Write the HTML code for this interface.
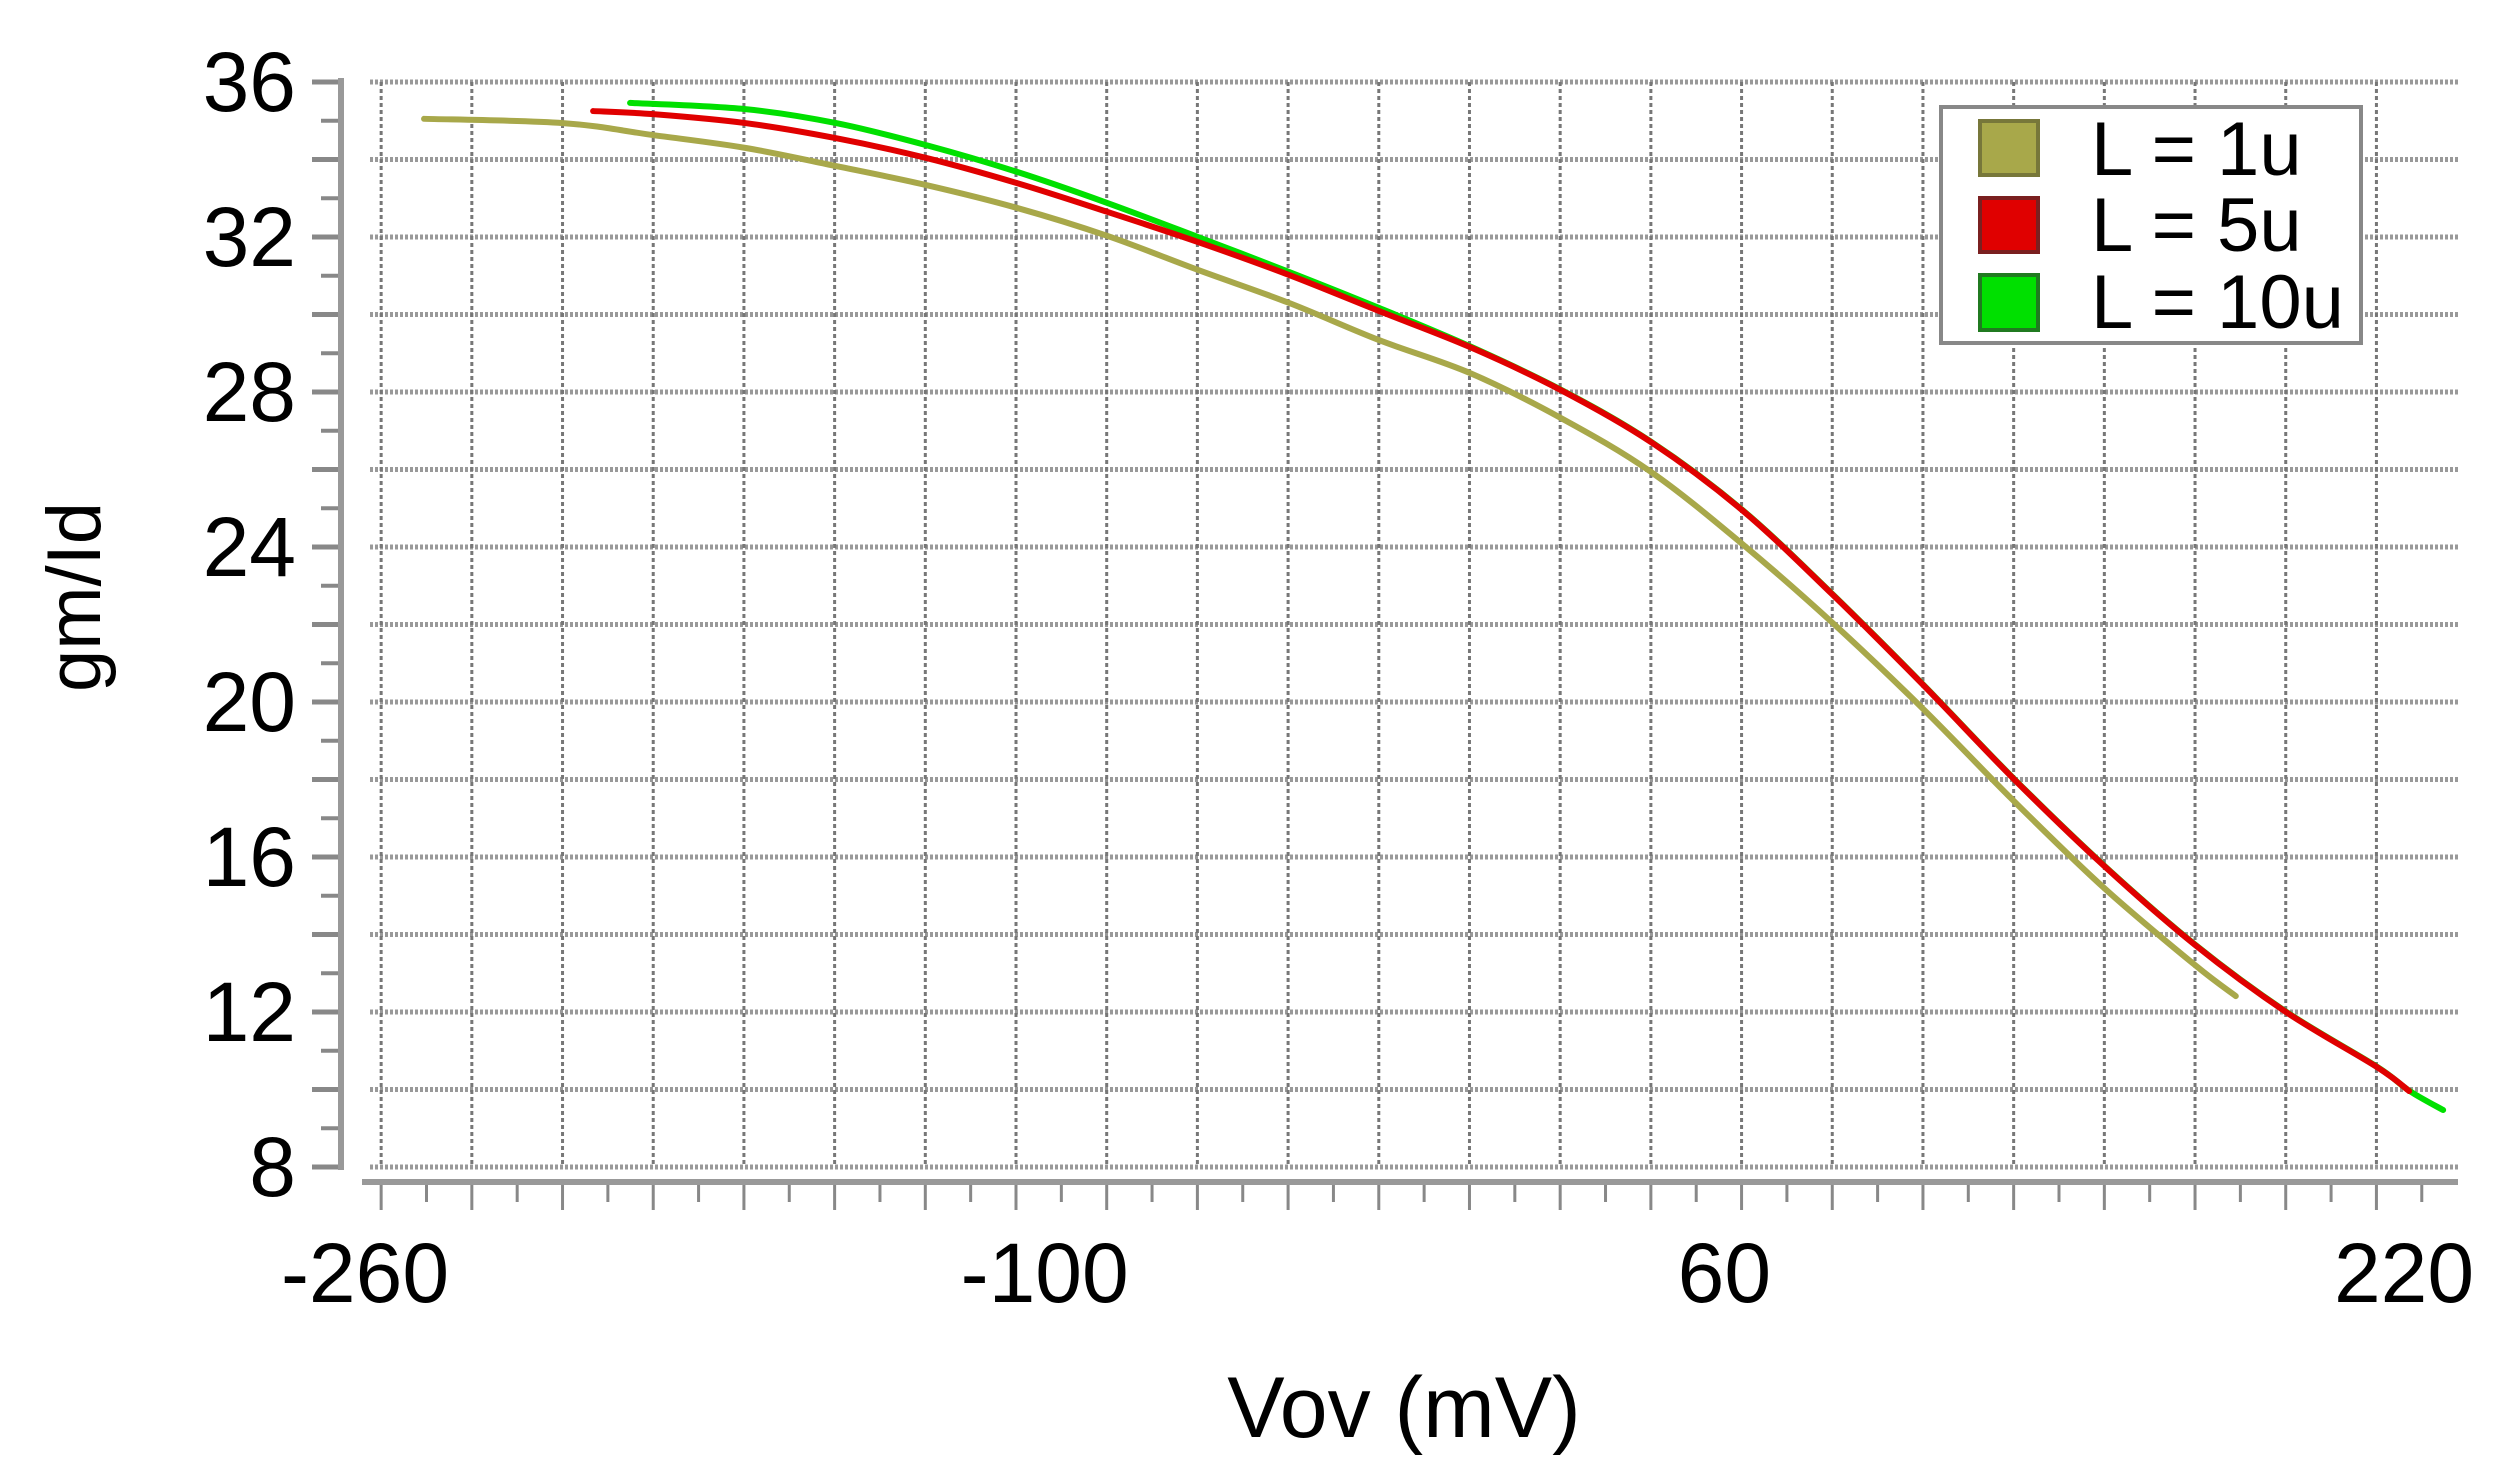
<!DOCTYPE html>
<html><head><meta charset="utf-8"><style>
html,body{margin:0;padding:0;background:#fff;}
svg{display:block;font-family:"Liberation Sans","DejaVu Sans",sans-serif;}
</style></head><body>
<svg id="chart" width="2507" height="1472" viewBox="0 0 2507 1472" xmlns="http://www.w3.org/2000/svg">
<g id="grid"></g>
<g id="axes"></g>
<g id="series"></g>
<text x="1404" y="1437" font-size="86" text-anchor="middle" fill="#000">Vov (mV)</text>
<text transform="translate(100,597) rotate(-90)" font-size="76" text-anchor="middle" fill="#000">gm/Id</text>
<g>
<rect x="1941" y="107" width="420" height="236" fill="#fff" stroke="#888" stroke-width="4"/>
<g><rect x="1980" y="121" width="58" height="54" fill="#a8a84a" stroke="#77773a" stroke-width="4"/><text x="2091" y="175" font-size="76" fill="#000">L = 1u</text></g>
<g><rect x="1980" y="198" width="58" height="54" fill="#e00000" stroke="#7a2020" stroke-width="4"/><text x="2091" y="251" font-size="76" fill="#000">L = 5u</text></g>
<g><rect x="1980" y="275" width="58" height="55" fill="#00e000" stroke="#207a20" stroke-width="4"/><text x="2091" y="328" font-size="76" fill="#000">L = 10u</text></g>
</g>
</svg>
<script>
const xTickLabels = [-260, -100, 60, 220];
const yTickLabels = [8, 12, 16, 20, 24, 28, 32, 36];
const seriesNames = ["L = 1u", "L = 10u", "L = 5u"];
const seriesColors = ["#a8a84a", "#00e000", "#e00000"];
const vov1u = [-246.1,-213.4,-192.2,-170.5,-149.1,-127.9,-106.5,-85.3,-63.9,-42.5,-21.3,0.1,21.5,42.7,64.2,85.3,106.8,127.9,149.4,170.8,180.4];
const gm1u  = [35.05,34.94,34.63,34.30,33.83,33.34,32.75,32.03,31.15,30.30,29.34,28.49,27.33,25.94,24.08,22.06,19.82,17.47,15.20,13.21,12.41];
const vov5u = [-206.3,-192.2,-170.5,-149.1,-127.9,-106.5,-85.3,-63.9,-42.5,-21.3,0.1,21.5,42.7,64.2,85.3,106.8,127.9,149.4,170.8,192.2,213.6,221.2];
const gm5u  = [35.25,35.17,34.94,34.55,34.04,33.39,32.65,31.87,31.02,30.09,29.16,28.05,26.71,24.95,22.79,20.44,18.04,15.77,13.73,12.00,10.58,9.96];
const vov10u = [-197.6,-170.5,-149.1,-127.9,-106.5,-85.3,-63.9,-42.5,-21.3,0.1,21.5,42.7,64.2,85.3,106.8,127.9,149.4,170.8,192.2,213.6,221.2,229.2];
const gm10u  = [35.46,35.30,34.94,34.37,33.68,32.88,32.00,31.10,30.17,29.18,28.06,26.72,24.96,22.80,20.45,18.05,15.78,13.74,12.01,10.59,9.97,9.47];

const NS = "http://www.w3.org/2000/svg";
function X(v){ return 365 + (v + 260) * 4.248; }
function Y(v){ return 82 + (36 - v) * 38.75; }
function mk(tag, attrs, parent){ const e = document.createElementNS(NS, tag); for (const k in attrs) e.setAttribute(k, attrs[k]); parent.appendChild(e); return e; }

const grid = document.getElementById('grid');
const axes = document.getElementById('axes');
const series = document.getElementById('series');
const gridStart = -256.2, gridStep = 21.35, gridEnd = 2458;

for (let v = 8; v <= 36; v += 1) {
  const y = Y(v);
  if (v % 2 === 0) {
    const g = mk('line', {x1: 370, x2: gridEnd, y1: y, y2: y, stroke: '#999', 'stroke-width': 5, 'stroke-dasharray': '3 2'}, grid);
    
    
    const t = mk('line', {x1: 312, x2: 341, y1: y, y2: y, stroke: '#888', 'stroke-width': 5}, axes);
    
    
  } else {
    const t = mk('line', {x1: 321, x2: 341, y1: y, y2: y, stroke: '#888', 'stroke-width': 4}, axes);
    
    
  }
}
for (let k = 0; ; k++) {
  const x = X(gridStart + k * gridStep);
  if (x > gridEnd) break;
  const g = mk('line', {x1: x, x2: x, y1: 82, y2: 1167, stroke: '#777', 'stroke-width': 3, 'stroke-dasharray': '4 3'}, grid);
  
  
  const t = mk('line', {x1: x, x2: x, y1: 1182, y2: 1210, stroke: '#888', 'stroke-width': 3}, axes);
  
  
  const xm = X(gridStart + (k + 0.5) * gridStep);
  if (xm < gridEnd) {
    const m = mk('line', {x1: xm, x2: xm, y1: 1182, y2: 1202, stroke: '#888', 'stroke-width': 3}, axes);
    
    
  }
}
const ya = mk('line', {x1: 341, x2: 341, y1: 78, y2: 1170, stroke: '#999', 'stroke-width': 6}, axes);


const xa = mk('line', {x1: 362, x2: gridEnd, y1: 1182, y2: 1182, stroke: '#999', 'stroke-width': 6}, axes);



xTickLabels.forEach(v => {
  const t = mk('text', {x: X(v), y: 1302, 'font-size': 84, 'text-anchor': 'middle', fill: '#000'}, axes);
  t.textContent = String(v);
  
  
});
yTickLabels.forEach(v => {
  const t = mk('text', {x: 296, y: Y(v) + 29, 'font-size': 84, 'text-anchor': 'end', fill: '#000'}, axes);
  t.textContent = String(v);
  
  
});

function smoothPath(xs, ys){
  const p = xs.map((v, i) => [X(v), Y(ys[i])]);
  let d = 'M' + p[0][0] + ' ' + p[0][1];
  for (let i = 0; i < p.length - 1; i++) {
    const p0 = p[Math.max(0, i - 1)], p1 = p[i], p2 = p[i + 1], p3 = p[Math.min(p.length - 1, i + 2)];
    const c1x = p1[0] + (p2[0] - p0[0]) / 6, c1y = p1[1] + (p2[1] - p0[1]) / 6;
    const c2x = p2[0] - (p3[0] - p1[0]) / 6, c2y = p2[1] - (p3[1] - p1[1]) / 6;
    d += ' C' + c1x + ' ' + c1y + ' ' + c2x + ' ' + c2y + ' ' + p2[0] + ' ' + p2[1];
  }
  return d;
}
const sData = [[vov1u, gm1u], [vov10u, gm10u], [vov5u, gm5u]];
sData.forEach((s, i) => {
  const path = mk('path', {d: smoothPath(s[0], s[1]), fill: 'none', stroke: seriesColors[i], 'stroke-width': 6, 'stroke-linecap': 'round'}, series);
  
  
});
</script>
</body></html>
